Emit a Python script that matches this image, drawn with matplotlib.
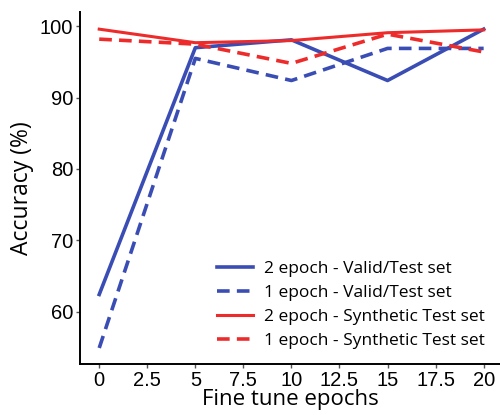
import matplotlib
matplotlib.use("Agg")
import matplotlib.pyplot as plt

epochs = [0, 5, 10, 15, 20]
valid_2ep = [62.4, 97.0, 98.1, 92.4, 99.6]
valid_1ep = [54.9, 95.5, 92.4, 96.9, 96.9]
synth_2ep = [99.6, 97.7, 98.0, 99.1, 99.5]
synth_1ep = [98.2, 97.5, 94.8, 98.9, 96.4]
labels = ["2 epoch - Valid/Test set", "1 epoch - Valid/Test set",
          "2 epoch - Synthetic Test set", "1 epoch - Synthetic Test set"]
xticks = [0, 2.5, 5, 7.5, 10, 12.5, 15, 17.5, 20]
xtick_labels = ["0", "2.5", "5", "7.5", "10", "12.5", "15", "17.5", "20"]
yticks = [60, 70, 80, 90, 100]

blue = "#3a4db4"
red = "#ee2b2b"

fig = plt.figure(figsize=(5.0, 4.15), dpi=100)
ax = fig.add_axes([0.16, 0.122, 0.84, 0.849])

ax.plot(epochs, valid_2ep, color=blue, lw=2.6, ls="-", label=labels[0])
ax.plot(epochs, valid_1ep, color=blue, lw=2.6, ls=(0, (3.5, 2)), label=labels[1])
ax.plot(epochs, synth_2ep, color=red, lw=2.2, ls="-", label=labels[2])
ax.plot(epochs, synth_1ep, color=red, lw=2.6, ls=(0, (3.5, 2)), label=labels[3])

ax.set_xlim(-1.0, 20.85)
ax.set_ylim(52.6, 102.0)
ax.set_xticks(xticks)
ax.set_xticklabels(xtick_labels)
ax.set_yticks(yticks)
for lab in ax.get_xticklabels() + ax.get_yticklabels():
    lab.set_fontfamily("Liberation Sans")
    lab.set_fontsize(14.5)
ax.tick_params(length=3, width=1, color="#555555", pad=2)

ax.spines["top"].set_visible(False)
ax.spines["right"].set_visible(False)
ax.spines["left"].set_linewidth(1.4)
ax.spines["bottom"].set_linewidth(1.4)

ax.set_xlabel("Fine tune epochs", fontfamily="Open Sans", fontsize=16, labelpad=-1)
ax.set_ylabel("Accuracy (%)", fontfamily="Open Sans", fontsize=16.5, labelpad=4)

leg = ax.legend(loc="lower right", frameon=False, prop={"family": "Open Sans", "size": 12.5},
                handlelength=2.1, handletextpad=0.6, labelspacing=0.45,
                bbox_to_anchor=(1.0, 0.0))

fig.savefig("out.png", dpi=100)
